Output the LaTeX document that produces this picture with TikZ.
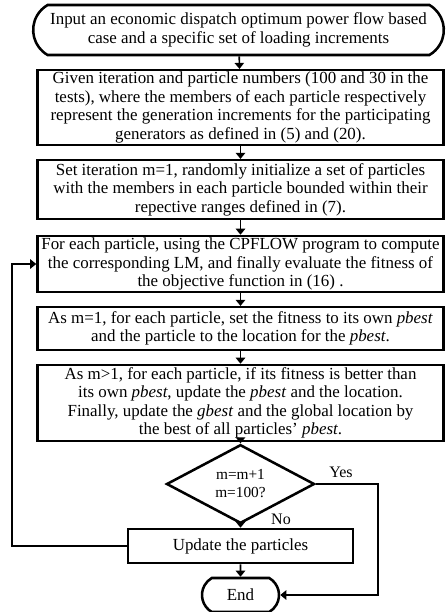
\documentclass[tikz,border=0pt]{standalone}
\usepackage{fontspec}
\setmainfont{Liberation Serif}
\usetikzlibrary{shapes.geometric,shapes.misc,arrows.meta}
\tikzset{
  stepbox/.style={draw, line width=1.9pt, rectangle, align=center, inner sep=0pt,
    minimum width=304.5pt, font=\fontsize{12.7}{13.9}\selectfont},
  termbox/.style={draw, line width=1.9pt, rounded rectangle, rounded rectangle arc length=120,
    align=center, inner sep=0pt, font=\fontsize{12.7}{13.9}\selectfont},
  testbox/.style={draw, line width=1.9pt, diamond, align=center, inner sep=0pt,
    font=\fontsize{11.5}{13.5}\selectfont},
  flow/.style={line width=1.2pt, -{Triangle[width=7pt,length=4.5pt]}},
  tag/.style={font=\fontsize{12}{13}\selectfont},
}
\begin{document}
\begin{tikzpicture}[x=0.75pt,y=-0.75pt]
\useasboundingbox (0,0) rectangle (447,612);
\node[termbox, minimum width=308pt, minimum height=37.5pt] (start) at (238.5,30)
    {Input an economic dispatch optimum power flow based\\ case and a specific set of loading increments};
\node[stepbox, minimum height=56pt] (given) at (240.5,107.5)
    {Given iteration and particle numbers (100 and 30 in the\\ tests), where the members of each particle respectively\\ represent the generation increments for the participating\\ generators as defined in (5) and (20).};
\node[stepbox, minimum height=44pt] (init) at (240.5,189.5)
    {Set iteration m=1, randomly initialize a set of particles\\ with the members in each particle bounded within their\\ repective ranges defined in (7).};
\node[stepbox, minimum height=42pt] (eval) at (240.5,264)
    {For each particle, using the CPFLOW program to compute\\ the corresponding LM, and finally evaluate the fitness of\\ the objective function in (16) .};
\node[stepbox, minimum height=32pt] (first) at (240.5,328.5)
    {As m=1, for each particle, set the fitness to its own \textit{pbest}\\ and the particle to the location for the \textit{pbest}.};
\node[stepbox, minimum height=57pt] (later) at (240.5,403)
    {As m>1, for each particle, if its fitness is better than\\ its own \textit{pbest}, update the \textit{pbest} and the location.\\ Finally, update the \textit{gbest} and the global location by\\ the best of all particles' \textit{pbest}.};
\node[testbox, minimum width=111pt, minimum height=43.5pt] (test) at (240.5,484)
    {m=m+1\\ m=100?};
\node[stepbox, minimum width=168.75pt, minimum height=25.5pt] (upd) at (240.5,546)
    {Update the particles};
\node[termbox, minimum width=57.75pt, minimum height=25.5pt] (end) at (240.5,595) {End};
\coordinate (loopx) at (12,546);
\coordinate (yesx) at (378,484);
\draw[flow] (start) -- (given);
\draw[flow] (given) -- (init);
\draw[flow] (init) -- (eval);
\draw[flow] (eval) -- (first);
\draw[flow] (first) -- (later);
\draw[flow] (later) -- (test);
\draw[flow] (test) -- (upd);
\draw[flow] (upd) -- (end);
\draw[flow] (upd.west) -- (loopx) |- (eval.west);
\draw[flow] (test.east) -- (yesx) |- (end.east);
\node[tag] (yes) at (341,472) {Yes};
\node[tag] (no) at (281,519) {No};
\end{tikzpicture}
\end{document}
